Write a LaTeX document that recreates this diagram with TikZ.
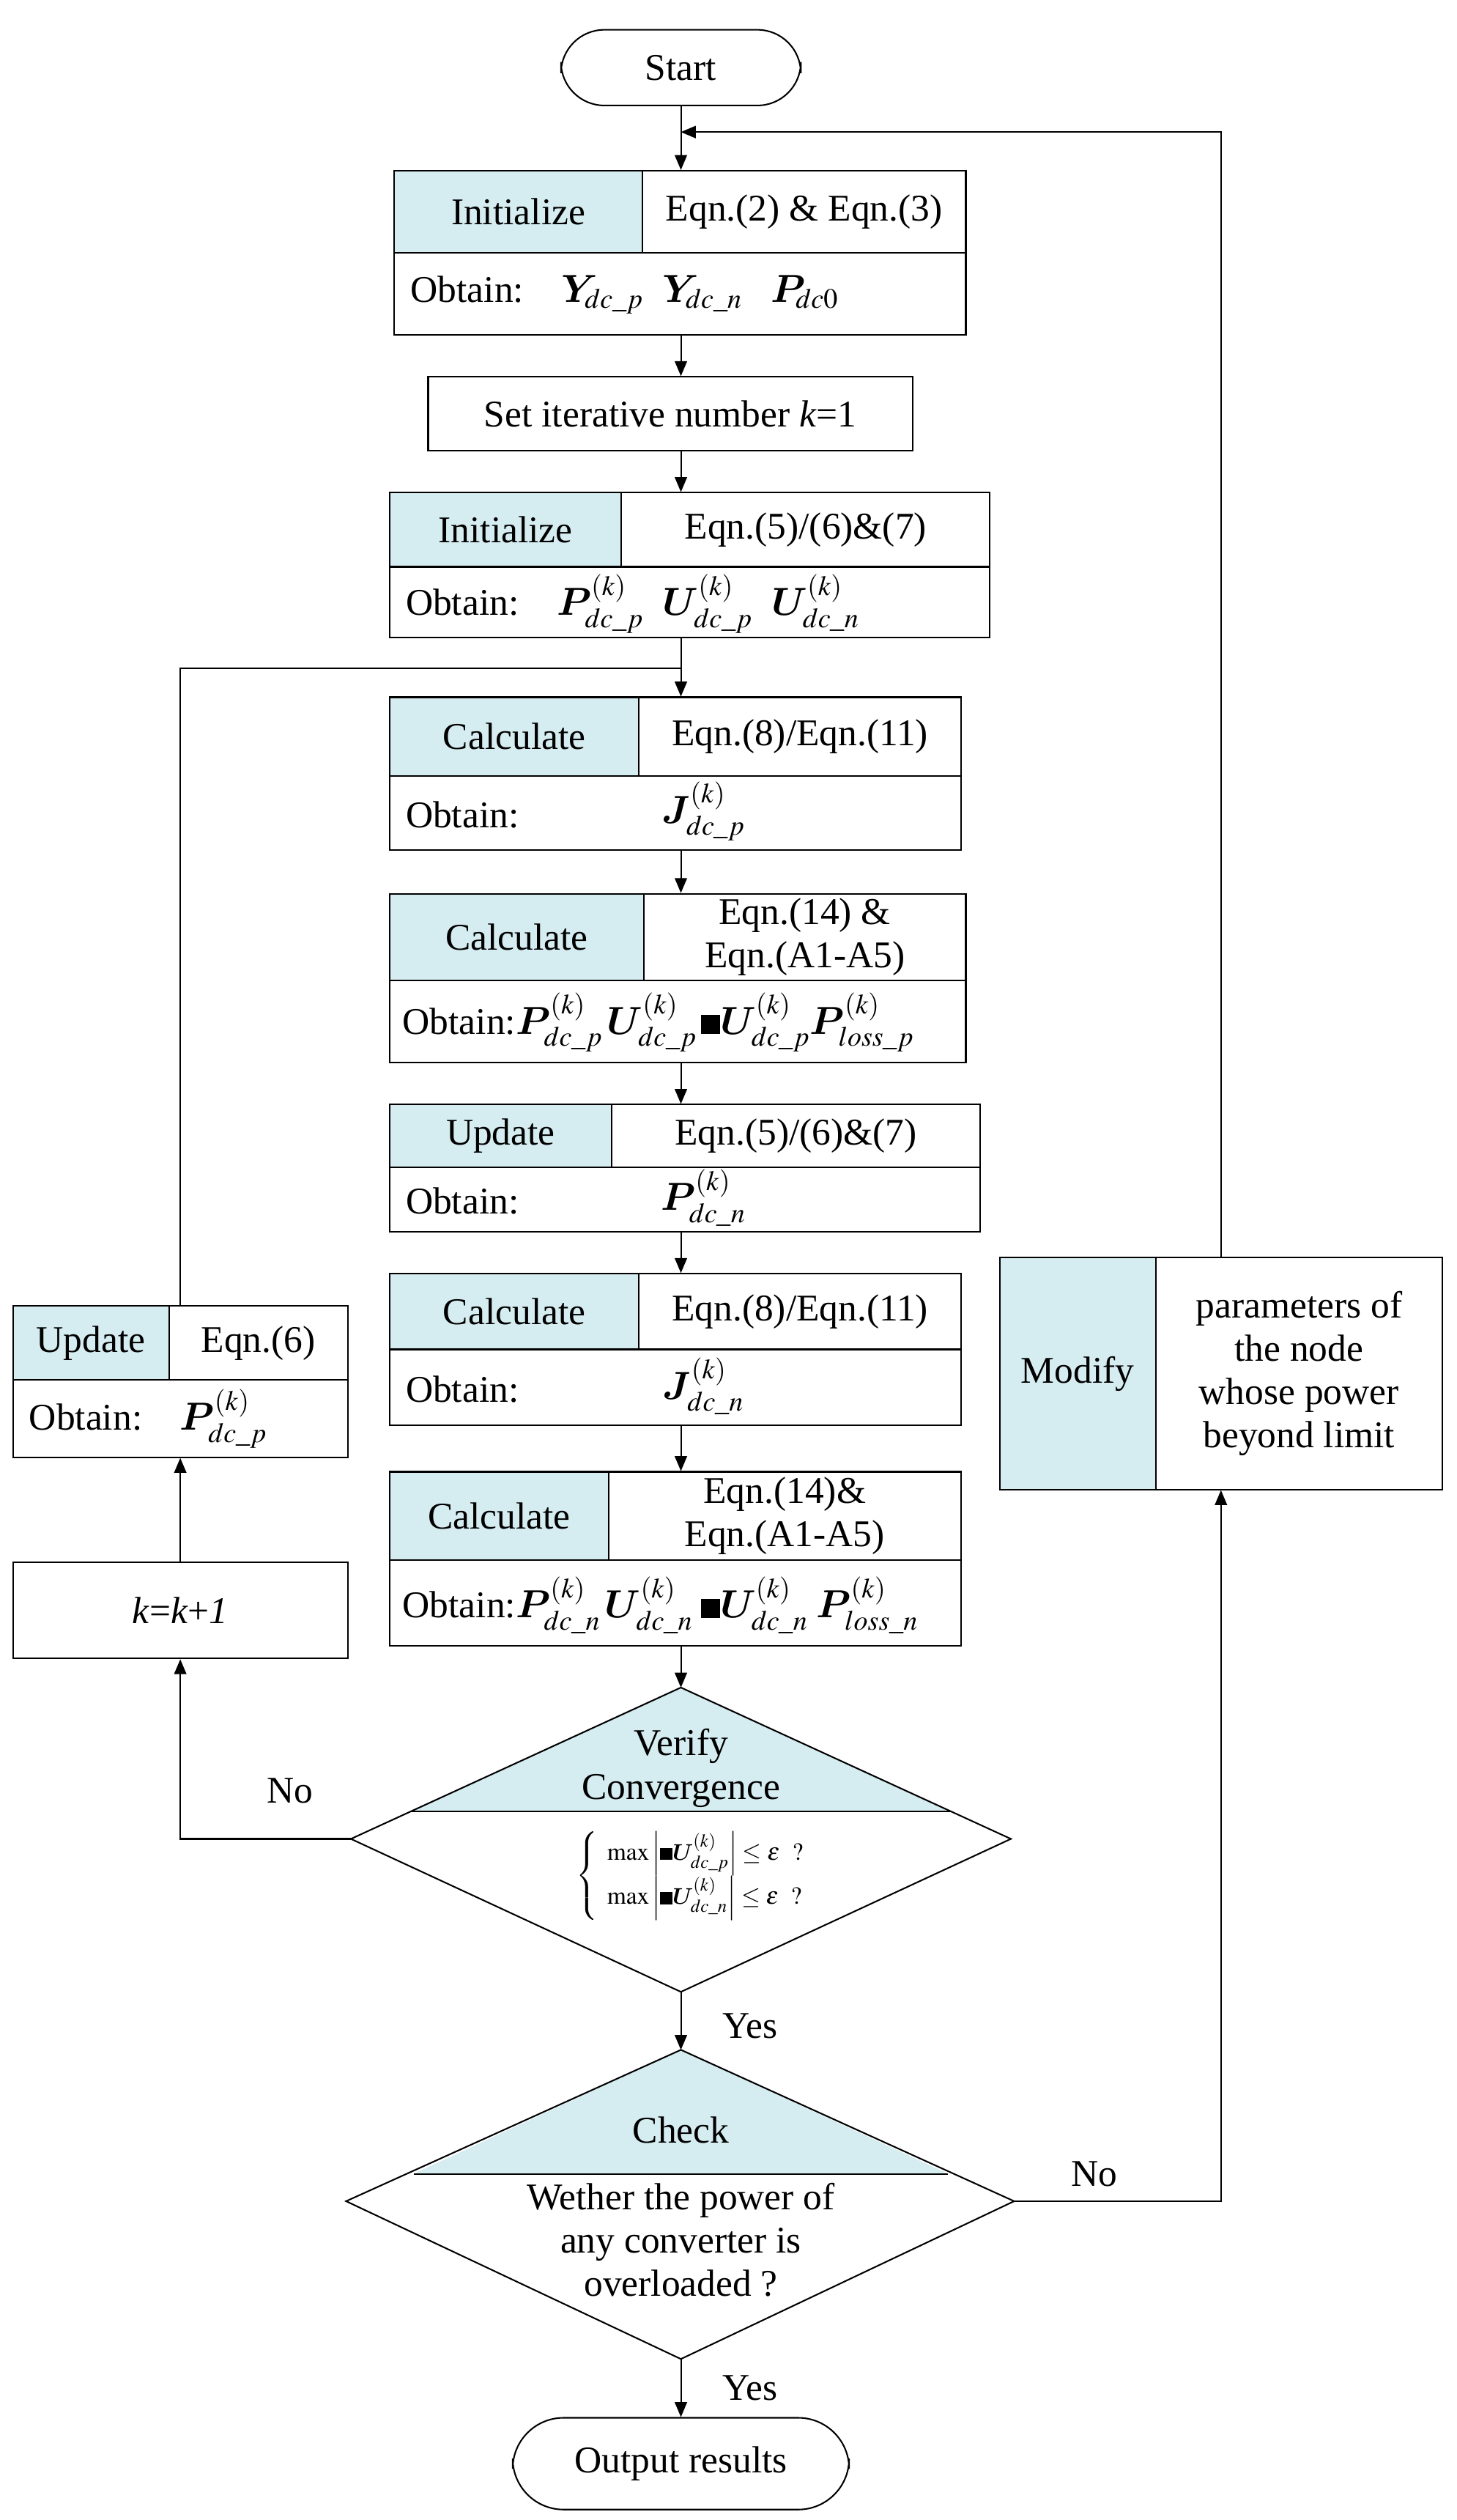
\documentclass[tikz,border=0pt]{standalone}
\usepackage{amsmath,bm}
\usepackage{mathptmx}
\usepackage{fontspec}
\setmainfont{Liberation Serif}
\usetikzlibrary{arrows,fit}

\definecolor{cellblue}{RGB}{213,236,240}
\tikzset{
  every node/.style={font=\fontsize{20}{23}\selectfont},
  frame/.style={draw, thick, inner sep=0pt},
  cell/.style={fill=cellblue},
  flow/.style={thick, ->, >=triangle 45},
  lbl/.style={align=center, inner sep=0pt}
}
% two-row box: name, x1, y1, xs, ys, x2, y2, label, eqn
\newcommand\eqbox[9]{%
  \fill[cell] (#2,#3) rectangle (#4,#5);
  \node[frame, fit={(#2,#3)(#6,#7)}] (#1) {};
  \draw[thick] (#2,#5) -- (#6,#5) (#4,#3) -- (#4,#5);
  \node[lbl] at ({(#2+#4)/2},{(#3+#5)/2}) {#8};
  \node[lbl] at ({(#4+#6)/2},{(#3+#5)/2}) {#9};
}

\begin{document}
\begin{tikzpicture}[x=0.03cm, y=-0.03cm]
    \useasboundingbox (0,0) rectangle (905,1565);

    \node[frame, rounded corners=23pt, minimum width=149*0.03cm, minimum height=47*0.03cm] (st) at (423,42) {Start};

    \eqbox{b1}{245}{106}{399}{157}{600}{208}{Initialize}{Eqn.(2) \& Eqn.(3)}
    \node[anchor=west] at (251,183) {Obtain:\quad $\bm{Y}_{\!dc\_p}\ \ \bm{Y}_{\!dc\_n}\ \ \ \bm{P}_{\!dc0}$};

    \node[frame, minimum width=301*0.03cm, minimum height=46*0.03cm] (b2) at (416.5,257) {Set iterative number \textit{k}=1};

    \eqbox{b3}{242}{306}{386}{352}{615}{396}{Initialize}{Eqn.(5)/(6)\&(7)}
    \node[anchor=west] at (248,375) {Obtain:\quad $\bm{P}^{(k)}_{dc\_p}\ \ \bm{U}^{(k)}_{dc\_p}\ \ \bm{U}^{(k)}_{dc\_n}$};

    \eqbox{b4}{242}{433}{397}{482}{597}{528}{Calculate}{Eqn.(8)/Eqn.(11)}
    \node[anchor=west] at (248,506) {Obtain:};
    \node at (437,504) {$\bm{J}^{(k)}_{dc\_p}$};

    \eqbox{b5}{242}{555}{400}{609}{600}{660}{Calculate}{Eqn.(14) \&\\Eqn.(A1-A5)}
    \node[anchor=west] at (246,635) {Obtain:$\bm{P}^{(k)}_{dc\_p}\,\bm{U}^{(k)}_{dc\_p}\,\bm{\mathit{\Delta} U}^{(k)}_{dc\_p}\bm{P}^{(k)}_{loss\_p}$};

    \eqbox{b6}{242}{686}{380}{725}{609}{765}{Update}{Eqn.(5)/(6)\&(7)}
    \node[anchor=west] at (248,746) {Obtain:};
    \node at (437,744) {$\bm{P}^{(k)}_{dc\_n}$};

    \eqbox{b7}{242}{791}{397}{838}{597}{885}{Calculate}{Eqn.(8)/Eqn.(11)}
    \node[anchor=west] at (248,863) {Obtain:};
    \node at (437,861) {$\bm{J}^{(k)}_{dc\_n}$};

    \eqbox{b8}{242}{914}{378}{969}{597}{1022}{Calculate}{Eqn.(14)\&\\Eqn.(A1-A5)}
    \node[anchor=west] at (246,997) {Obtain:$\bm{P}^{(k)}_{dc\_n}\,\bm{U}^{(k)}_{dc\_n}\;\bm{\mathit{\Delta} U}^{(k)}_{dc\_n}\;\bm{P}^{(k)}_{loss\_n}$};

    % convergence check
    \fill[cell] (423,1048) -- (255,1125) -- (591,1125) -- cycle;
    \draw[thick] (423,1048) coordinate (d1n) -- (628,1142) coordinate (d1e)
        -- (423,1237) coordinate (d1s) -- (218,1142) coordinate (d1w) -- cycle;
    \draw[thick] (255,1125) -- (591,1125);
    \node[lbl] at (423,1098) {Verify\\Convergence};
    \node[font=\fontsize{13}{15}\selectfont] at (432,1165) {$\left\{\begin{array}{l}
        \max\left|\bm{\mathit{\Delta} U}^{(k)}_{dc\_p}\right|\le\varepsilon\ \ ?\\[4pt]
        \max\left|\bm{\mathit{\Delta} U}^{(k)}_{dc\_n}\right|\le\varepsilon\ \ ?\end{array}\right.$};

    % overload check
    \fill[cell] (423,1273) -- (257,1350) -- (589,1350) -- cycle;
    \draw[thick] (423,1273) coordinate (d2n) -- (630,1367) coordinate (d2e)
        -- (423,1465) coordinate (d2s) -- (215,1367) coordinate (d2w) -- cycle;
    \draw[thick] (257,1350) -- (589,1350);
    \node[lbl] at (423,1323) {Check};
    \node[lbl] at (423,1391) {Wether the power of\\any converter is\\overloaded ?};

    \node[frame, rounded corners=27pt, minimum width=209*0.03cm, minimum height=57*0.03cm] (out) at (423,1530) {Output results};

    % left loop
    \eqbox{up}{8}{811}{105}{857}{216}{905}{Update}{Eqn.(6)}
    \node[anchor=west] at (14,881) {Obtain:\quad $\bm{P}^{(k)}_{dc\_p}$};
    \node[frame, minimum width=208*0.03cm, minimum height=60*0.03cm] (kk) at (112,1000) {\textit{k}=\textit{k}+\textit{1}};

    % right branch
    \fill[cell] (621,781) rectangle (718,925);
    \node[frame, fit={(621,781)(896,925)}] (md) {};
    \draw[thick] (718,781) -- (718,925);
    \node[lbl] at (669.5,853) {Modify};
    \node[lbl] at (807,853) {parameters of\\the node\\whose power\\beyond limit};

    % connectors
    \draw[flow] (st) -- (b1.north -| st);
    \draw[flow] (b1.south -| st) -- (b2.north -| st);
    \draw[flow] (b2.south -| st) -- (b3.north -| st);
    \draw[flow] (b3.south -| st) -- (b4.north -| st);
    \draw[flow] (b4.south -| st) -- (b5.north -| st);
    \draw[flow] (b5.south -| st) -- (b6.north -| st);
    \draw[flow] (b6.south -| st) -- (b7.north -| st);
    \draw[flow] (b7.south -| st) -- (b8.north -| st);
    \draw[flow] (b8.south -| st) -- (d1n);
    \draw[flow] (d1s) -- (d2n);
    \node at (466,1258) {Yes};
    \draw[flow] (d2s) -- (out);
    \node at (466,1483) {Yes};
    \draw[flow] (d1w) -- (d1w -| kk) -- (kk);
    \node at (180,1112) {No};
    \draw[flow] (kk) -- (up);
    \draw[thick] (up.north) |- (423,415);
    \draw[flow] (d2e) -- (d2e -| md) -- (md);
    \node at (680,1350) {No};
    \draw[flow] (md) |- (423,82);
\end{tikzpicture}
\end{document}
